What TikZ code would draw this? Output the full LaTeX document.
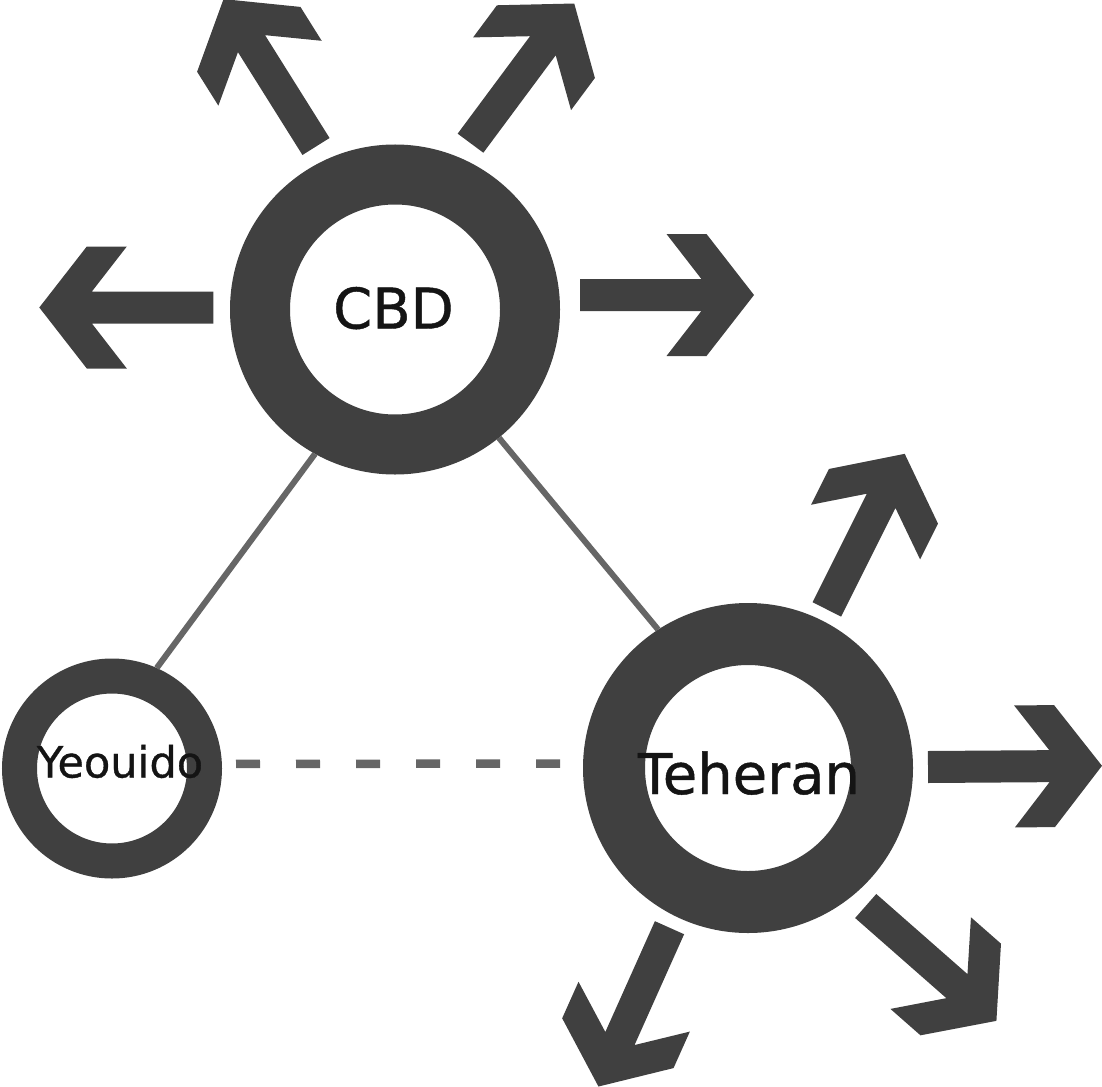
\documentclass[tikz,border=0pt]{standalone}
\usepackage{fontspec}
\setmainfont{DejaVu Sans}
\begin{document}
\begin{tikzpicture}[x=1pt,y=-1pt,
  ring/.style={circle, draw=ringgray, fill=white, inner sep=0pt},
  link/.style={draw=linkgray, line width=6pt},
  dashlink/.style={draw=linkgray, line width=8.5pt, dash pattern=on 24pt off 36pt},
  lbl/.style={inner sep=0pt, text=textblack, anchor=base},
  bigarrow/.pic={
    \fill[ringgray] (0,16) -- (121.4,16) -- (86.5,61) -- (126.5,61) -- (174,0)
      -- (126.5,-61) -- (86.5,-61) -- (121.4,-16) -- (0,-16) -- cycle;
  }]
\definecolor{ringgray}{HTML}{404040}
\definecolor{linkgray}{HTML}{666666}
\definecolor{textblack}{HTML}{141414}
\useasboundingbox (0,0) rectangle (1102,1086);

% district rings
\node[ring, line width=60pt, minimum size=270pt] (cbd) at (395,309.5) {};
\node[ring, line width=35pt, minimum size=185pt] (yeo) at (112,768.5) {};
\node[ring, line width=62pt, minimum size=268pt] (teh) at (748,768) {};

% names, slightly emboldened
\node[lbl, font=\fontsize{56}{60}\selectfont\addfontfeature{FakeBold=0.8}] (cbdname) at (393.5,328.5) {CBD};
\node[lbl, font=\fontsize{43}{48}\selectfont\addfontfeature{FakeBold=0.8}] (yeoname) at (120,777.5) {Yeouido};
\node[lbl, font=\fontsize{56}{60}\selectfont\addfontfeature{FakeBold=0.8}] (tehname) at (749,794) {Teheran};

% links between districts
\draw[link] (cbd.241.2) -- (yeo.66);
\draw[link] (cbd.309.9) -- (teh.123.2);
\draw[dashlink, shorten <=14pt, shorten >=23pt] ([yshift=4.5pt]yeo.east) -- ([yshift=4.5pt]teh.west);

% outward growth arrows around CBD
\pic[rotate=180]   at (213.3,307.5) {bigarrow};
\pic[rotate=0]     at (580,295)     {bigarrow};
\pic[rotate=122.1] at (316,146.5)   {bigarrow};
\pic[rotate=53.4]  at (470.5,143.2) {bigarrow};

% outward growth arrows around Teheran
\pic[rotate=63.4]   at (826.8,609.4) {bigarrow};
\pic[rotate=0.4]    at (928,767)     {bigarrow};
\pic[rotate=-41.3]  at (865.7,906)   {bigarrow};
\pic[rotate=-114.1] at (669.5,927.7) {bigarrow};
\end{tikzpicture}
\end{document}
